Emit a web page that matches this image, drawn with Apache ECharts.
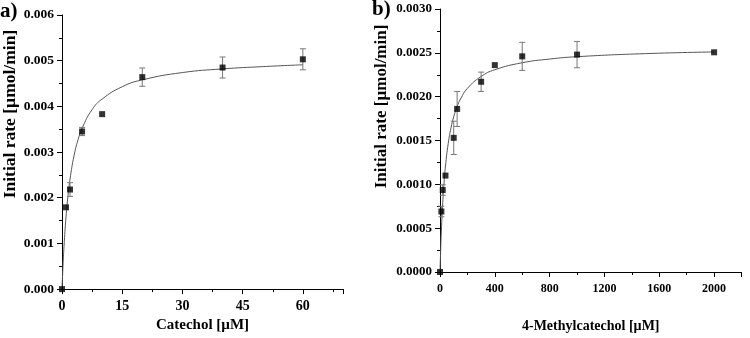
<!DOCTYPE html>
<html>
<head>
<meta charset="utf-8">
<script src="https://cdn.jsdelivr.net/npm/echarts@6/dist/echarts.min.js"></script>
<style>
  html, body { margin: 0; padding: 0; background: #fff; }
  #chart { width: 750px; height: 338px; }
</style>
</head>
<body>
<div id="chart"></div>
<script>
// panel a: catechol
const catecholConc = [0, 1, 2, 5, 10, 20, 40, 60];
const catecholRate = [0, 0.00179, 0.00218, 0.00345, 0.00383, 0.00464, 0.00485, 0.00503];
const catecholErr = [0, 0, 0.00015, 0.00009, 0, 0.0002, 0.00023, 0.00023];
const catecholFitX = [0, 0.25, 0.5, 1, 1.5, 2, 3, 4, 5, 7.5, 10, 15, 20, 30, 40, 50, 60];
const catecholFitY = [0, 0.00051, 0.00093, 0.00158, 0.00205, 0.00241, 0.00292, 0.00327, 0.00352,
  0.00393, 0.00416, 0.00443, 0.00458, 0.00474, 0.00482, 0.00487, 0.00491];

// panel b: 4-methylcatechol
const methylConc = [0, 10, 20, 40, 100, 125, 300, 400, 600, 1000, 2000];
const methylRate = [0, 0.00069, 0.000935, 0.0011, 0.00153, 0.00186, 0.00217, 0.00236, 0.00246, 0.00248, 0.002506];
const methylErr = [0, 0.00006, 0.00006, 0, 0.00019, 0.0002, 0.00011, 0, 0.00016, 0.00015, 0];
const methylFitX = [0, 5, 10, 20, 30, 40, 60, 80, 100, 125, 150, 200, 300, 400, 600, 800, 1000, 1500, 2000];
const methylFitY = [0, 0.000257, 0.000467, 0.00079, 0.001026, 0.001208, 0.001466, 0.001642, 0.00177,
  0.001887, 0.001974, 0.002095, 0.00223, 0.002307, 0.002387, 0.002429, 0.002456, 0.002491, 0.00251];

const font = 'Liberation Serif';

function pairs(xs, ys) {
  return xs.map((x, i) => [x, ys[i]]);
}

function errorBars(xs, ys, errs, idx) {
  return {
    type: 'custom',
    xAxisIndex: idx,
    yAxisIndex: idx,
    data: xs.map((x, i) => [x, ys[i], errs[i]]).filter(d => d[2] > 0),
    renderItem: function (params, api) {
      const x = api.value(0), y = api.value(1), e = api.value(2);
      const hi = api.coord([x, y + e]);
      const lo = api.coord([x, y - e]);
      const w = 3;
      const style = { stroke: '#777', lineWidth: 1 };
      return {
        type: 'group',
        children: [
          { type: 'line', shape: { x1: hi[0], y1: hi[1], x2: lo[0], y2: lo[1] }, style },
          { type: 'line', shape: { x1: hi[0] - w, y1: hi[1], x2: hi[0] + w, y2: hi[1] }, style },
          { type: 'line', shape: { x1: lo[0] - w, y1: lo[1], x2: lo[0] + w, y2: lo[1] }, style }
        ]
      };
    },
    z: 3
  };
}

function xAxis(idx, name, max, interval, gap, margin, labelSize, nameSize) {
  return {
    gridIndex: idx,
    type: 'value',
    min: 0,
    max: max,
    interval: interval,
    name: name,
    nameLocation: 'middle',
    nameGap: gap,
    nameTextStyle: { fontFamily: font, fontWeight: 'bold', fontSize: nameSize, color: '#000' },
    axisLine: { onZero: false, lineStyle: { color: '#000', width: 1 } },
    axisTick: { length: 5, lineStyle: { color: '#000' } },
    minorTick: { show: true, splitNumber: 2, length: 3, lineStyle: { color: '#000' } },
    axisLabel: {
      fontFamily: font, fontWeight: 'bold', fontSize: labelSize, color: '#000', margin: margin,
      formatter: v => (v % interval === 0 ? String(v) : '')
    },
    splitLine: { show: false }
  };
}

function yAxis(idx, max, interval, digits, gap, shift, labelSize, nameSize) {
  return {
    gridIndex: idx,
    type: 'value',
    min: 0,
    max: max,
    interval: interval,
    name: 'Initial rate [µmol/min]',
    nameLocation: 'middle',
    nameRotate: 90,
    nameGap: gap,
    nameTextStyle: {
      fontFamily: font, fontWeight: 'bold', fontSize: nameSize, color: '#000',
      padding: [0, 0, 0, shift]
    },
    axisLine: { show: true, onZero: false, lineStyle: { color: '#000', width: 1 } },
    axisTick: { show: true, length: 5, lineStyle: { color: '#000' } },
    minorTick: { show: true, splitNumber: 2, length: 3, lineStyle: { color: '#000' } },
    axisLabel: {
      fontFamily: font, fontWeight: 'bold', fontSize: labelSize, color: '#000', margin: 8,
      formatter: v => v.toFixed(digits)
    },
    splitLine: { show: false }
  };
}

const chart = echarts.init(document.getElementById('chart'), null, { renderer: 'canvas' });

chart.setOption({
  animation: false,
  backgroundColor: '#fff',
  title: [
    { text: 'a)', left: 0, top: 1, padding: 0, textStyle: { fontFamily: font, fontWeight: 'bold', fontSize: 21, color: '#000' } },
    { text: 'b)', left: 372, top: -1, padding: 0, textStyle: { fontFamily: font, fontWeight: 'bold', fontSize: 21, color: '#000' } }
  ],
  grid: [
    { left: 61, top: 15, width: 282, height: 277 },
    { left: 440, top: 9, width: 301.5, height: 272 }
  ],
  xAxis: [
    xAxis(0, 'Catechol [µM]', 70, 15, 18, 10, 14, 15),
    xAxis(1, '4-Methylcatechol [µM]', 2200, 400, 47, 11, 12, 14)
  ],
  yAxis: [
    yAxis(0, 0.006, 0.001, 3, 43, 76, 13.5, 17.5),
    yAxis(1, 0.003, 0.0005, 4, 50, 68, 13, 17)
  ],
  series: [
    {
      type: 'line', xAxisIndex: 0, yAxisIndex: 0, smooth: true, showSymbol: false,
      data: pairs(catecholFitX, catecholFitY),
      lineStyle: { color: '#555', width: 1 }, z: 2
    },
    errorBars(catecholConc, catecholRate, catecholErr, 0),
    {
      type: 'scatter', xAxisIndex: 0, yAxisIndex: 0, symbol: 'rect', symbolSize: 6,
      data: pairs(catecholConc, catecholRate),
      itemStyle: { color: '#000' }, z: 4
    },
    {
      type: 'line', xAxisIndex: 1, yAxisIndex: 1, smooth: true, showSymbol: false,
      data: pairs(methylFitX, methylFitY),
      lineStyle: { color: '#555', width: 1 }, z: 2
    },
    errorBars(methylConc, methylRate, methylErr, 1),
    {
      type: 'scatter', xAxisIndex: 1, yAxisIndex: 1, symbol: 'rect', symbolSize: 6,
      data: pairs(methylConc, methylRate),
      itemStyle: { color: '#000' }, z: 4
    }
  ]
});
</script>
</body>
</html>
